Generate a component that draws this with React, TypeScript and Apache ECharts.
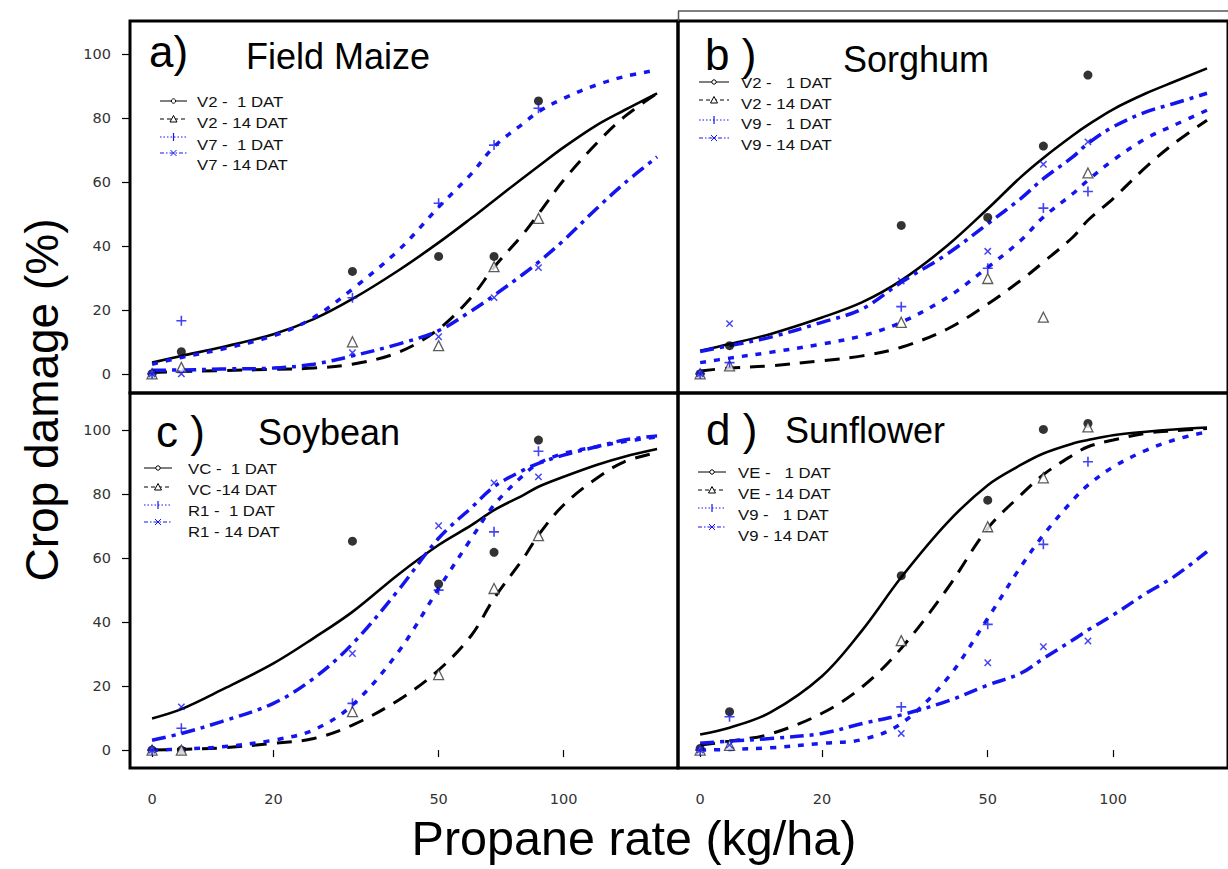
import React, { useEffect, useRef } from 'react';
import * as echarts from 'echarts';

// ---------- data ----------
const ZERO_POS = 10.2; // where dose 0 is drawn on the log axis (axis break)
const POINT_DOSES = [0, 12, 31, 50, 68, 87];
const CURVE_DOSES = [0, 12, 15, 20, 25, 31, 40, 50, 60, 68, 80, 87, 100, 120, 140, 168];
const X_TICKS = [0, 20, 50, 100];
const X_TICK_LABELS = ['0', '20', '50', '100'];
const Y_TICKS = [0, 20, 40, 60, 80, 100];

const PANEL_LETTERS = ['a)', 'b )', 'c )', 'd )'];
const PANEL_CROPS = ['Field Maize', 'Sorghum', 'Soybean', 'Sunflower'];
const NB = '\u00A0';
const LEGEND_LABELS = [
  ['V2 -' + NB + NB + '1 DAT', 'V2 - 14 DAT', 'V7 -' + NB + NB + '1 DAT', 'V7 - 14 DAT'],
  ['V2 -' + NB + NB + NB + '1 DAT', 'V2 - 14 DAT', 'V9 -' + NB + NB + NB + '1 DAT', 'V9 - 14 DAT'],
  ['VC -' + NB + NB + '1 DAT', 'VC -14 DAT', 'R1 -' + NB + NB + '1 DAT', 'R1 - 14 DAT'],
  ['VE -' + NB + NB + NB + '1 DAT', 'VE - 14 DAT', 'V9 -' + NB + NB + NB + '1 DAT', 'V9 - 14 DAT'],
];

// a) Field maize
const maizeV2d1Pts = [0, 6.9, 32, 36.7, 36.7, 85.3];
const maizeV2d14Pts = [0, 2, 10, 8.8, 33.5, 48.6];
const maizeV7d1Pts = [0, 16.6, 23.8, 53.3, 71.5, 83];
const maizeV7d14Pts = [0, 0, 6.6, 11.6, 23.8, 33.2];
const maizeV2d1Fit = [3.5, 5.6, 8.3, 12.4, 17.1, 23.4, 32.3, 41, 48.7, 54.2, 61.3, 64.9, 70.8, 77.7, 82.4, 87.7];
const maizeV2d14Fit = [0.4, 0.7, 1.0, 1.4, 1.8, 3.0, 6.7, 14, 24, 33.3, 43.8, 50, 60.5, 72, 80.3, 87.7];
const maizeV7d1Fit = [3.0, 5.1, 7.7, 11.9, 17.6, 26.5, 38.6, 52.1, 62.6, 71, 78.3, 81.9, 86.1, 90.3, 92.9, 95];
const maizeV7d14Fit = [1.1, 1.2, 1.5, 1.8, 3.0, 5.6, 9.3, 13.5, 19.7, 24.5, 31.2, 34.9, 41.7, 51.6, 59.5, 67.8];

// b) Sorghum
const sorgV2d1Pts = [0, 8.8, 46.4, 48.9, 71.2, 93.4];
const sorgV2d14Pts = [0, 2.5, 16.1, 29.8, 17.7, 62.8];
const sorgV9d1Pts = [0, 3.5, 21, 33, 51.8, 57];
const sorgV9d14Pts = [0, 15.7, 29, 38.3, 65.5, 72.5];
const sorgV2d1Fit = [7.2, 9.3, 12.4, 17.6, 22.4, 29.2, 40.1, 51.6, 61.5, 67.5, 74.5, 77.8, 82.7, 87.7, 91.3, 95.5];
const sorgV2d14Fit = [0.9, 1.8, 2.5, 4.1, 5.6, 8.3, 14, 21.8, 29.2, 34.9, 42.7, 48, 54.8, 64.7, 72, 79.3];
const sorgV9d1Fit = [3.5, 4.9, 6.7, 9.3, 11.9, 16.1, 23.9, 33.3, 41.7, 49, 56.3, 60.5, 66.8, 73.6, 77.7, 82.4];
const sorgV9d14Fit = [7.0, 8.8, 11.4, 16.1, 20.3, 28.6, 37.5, 46.9, 54.8, 61, 67.8, 72, 77.2, 81.9, 84.5, 87.7];

// c) Soybean
const soyVCd1Pts = [0, 0, 65.3, 51.9, 61.8, 96.9];
const soyVCd14Pts = [0, 0, 12, 23.6, 50.5, 67];
const soyR1d1Pts = [0, 6.8, 14.6, 50, 68.2, 93.4];
const soyR1d14Pts = [0, 13.5, 30.2, 70.1, 83.5, 85.4];
const soyVCd1Fit = [9.9, 12.8, 18.8, 27.1, 35, 43.2, 54.9, 64.1, 70.3, 75, 79.7, 82.3, 85.4, 89.1, 91.7, 94.1];
const soyVCd14Fit = [0, 0.2, 0.7, 2.1, 3.6, 7.8, 15.6, 25, 35.9, 47.4, 59.9, 67.2, 76.6, 84.9, 90.1, 93];
const soyR1d1Fit = [0, 0.3, 1.0, 3.1, 6.3, 14.1, 30.7, 50.5, 66.2, 76.6, 85.9, 89.6, 92.7, 94.8, 96.4, 97.9];
const soyR1d14Fit = [3.1, 5.2, 8.9, 14.6, 22.4, 33.2, 50, 66.2, 75.8, 82.3, 87.5, 89.6, 92.2, 94.8, 96.9, 98.2];

// d) Sunflower
const sunVEd1Pts = [0.5, 12, 54.5, 78.1, 100.2, 102.1];
const sunVEd14Pts = [0, 1.5, 34.2, 69.8, 85.1, 101];
const sunV9d1Pts = [0, 10.4, 13.5, 39.3, 64.3, 90.1];
const sunV9d14Pts = [0, 1.6, 5.2, 27.3, 32.3, 34.1];
const sunVEd1Fit = [4.9, 7, 11.7, 23.1, 37.5, 54, 71.1, 82.8, 89.1, 92.7, 95.8, 96.9, 98.4, 99.5, 100.2, 100.8];
const sunVEd14Fit = [1.6, 2.8, 5, 11.5, 19.8, 31.8, 50.5, 69.3, 79.7, 86.1, 92.2, 94.8, 96.9, 99, 99.8, 100.5];
const sunV9d1Fit = [0, 0.2, 0.7, 2.1, 3.3, 8.3, 22.4, 41.2, 57.3, 67.2, 78.1, 82.8, 88.5, 93.7, 96.9, 99.5];
const sunV9d14Fit = [2.1, 2.8, 3.6, 5.2, 8.3, 11, 15.3, 20.3, 24, 28.6, 34.4, 37.5, 42.2, 49, 54.2, 62];

const PANEL_POINTS = [
  [maizeV2d1Pts, maizeV2d14Pts, maizeV7d1Pts, maizeV7d14Pts],
  [sorgV2d1Pts, sorgV2d14Pts, sorgV9d1Pts, sorgV9d14Pts],
  [soyVCd1Pts, soyVCd14Pts, soyR1d1Pts, soyR1d14Pts],
  [sunVEd1Pts, sunVEd14Pts, sunV9d1Pts, sunV9d14Pts],
];
const PANEL_FITS = [
  [maizeV2d1Fit, maizeV2d14Fit, maizeV7d1Fit, maizeV7d14Fit],
  [sorgV2d1Fit, sorgV2d14Fit, sorgV9d1Fit, sorgV9d14Fit],
  [soyVCd1Fit, soyVCd14Fit, soyR1d1Fit, soyR1d14Fit],
  [sunVEd1Fit, sunVEd14Fit, sunV9d1Fit, sunV9d14Fit],
];

// ---------- styling / layout ----------
const BLUE = '#1414f0';
const FONT = '"Liberation Sans", Arial, sans-serif';
const TICK_FONT = 'DejaVu Sans';
const X_MIN = 2.2;
const X_MAX = 5.24;
const lnPos = (d: number) => Math.log(d === 0 ? ZERO_POS : d);

const GRIDS = [
  { left: 130, top: 21, width: 548, height: 372, yMin: -6, yMax: 110.3 },
  { left: 678, top: 21, width: 560, height: 372, yMin: -6, yMax: 110.3 },
  { left: 130, top: 393, width: 548, height: 375, yMin: -5.6, yMax: 111.6 },
  { left: 678, top: 393, width: 560, height: 375, yMin: -5.6, yMax: 111.6 },
];

const PLUS_PATH = 'path://M4.2,0H5.8V10H4.2Z M0,4.2H10V5.8H0Z';

const LINE_STYLES: any[] = [
  { color: '#000', type: 'solid', width: 2.6 },
  { color: '#000', type: [15, 10], width: 3 },
  { color: BLUE, type: [6, 8], width: 3.5 },
  { color: BLUE, type: [14, 6, 4, 6], width: 3.5 },
];
const MARKERS: any[] = [
  { symbol: 'circle', symbolSize: 9, itemStyle: { color: '#000' } },
  { symbol: 'triangle', symbolSize: 10, itemStyle: { color: '#fff', borderColor: '#333', borderWidth: 1.3 } },
  { symbol: PLUS_PATH, symbolSize: 10, itemStyle: { color: BLUE } },
  { symbol: PLUS_PATH, symbolSize: 9, symbolRotate: 45, itemStyle: { color: BLUE } },
];

const TITLES = [
  { lx: 149, ly: 51, cx: 246, cy: 56 },
  { lx: 705, ly: 54, cx: 843, cy: 59 },
  { lx: 156, ly: 431, cx: 258, cy: 432 },
  { lx: 706, ly: 429, cx: 785, cy: 430 },
];
const LEGEND_LAYOUT = [
  { x1: 160, x2: 187, symY: [101, 119, 137, 153], tx: 197, ty: [101, 122, 144, 164] },
  { x1: 699, x2: 729, symY: [82, 100, 120, 138], tx: 741, ty: [82, 103, 123, 144] },
  { x1: 144, x2: 172, symY: [468, 487, 505, 522], tx: 188, ty: [468, 489, 510, 531] },
  { x1: 698, x2: 726, symY: [472, 490, 508, 527], tx: 738, ty: [472, 493, 514, 535] },
];
const LEGEND_DASH: any[] = [null, [4, 3], [1.5, 2], [4, 2, 1.5, 2]];

function legendGraphics(p: number): any[] {
  const L = LEGEND_LAYOUT[p];
  const out: any[] = [];
  for (let k = 0; k < 4; k++) {
    const y = L.symY[k];
    const color = k < 2 ? '#000' : BLUE;
    out.push({
      type: 'line', silent: true,
      shape: { x1: L.x1, y1: y, x2: L.x2, y2: y },
      style: { stroke: color, lineWidth: 1, lineDash: LEGEND_DASH[k] },
    });
    const mx = (L.x1 + L.x2) / 2;
    if (k === 0) {
      out.push({ type: 'circle', shape: { cx: mx, cy: y, r: 2.2 }, style: { fill: '#fff', stroke: '#000', lineWidth: 1 } });
    } else if (k === 1) {
      out.push({ type: 'polygon', shape: { points: [[mx - 3.5, y + 3], [mx + 3.5, y + 3], [mx, y - 3.5]] }, style: { fill: '#fff', stroke: '#000', lineWidth: 1 } });
    } else if (k === 2) {
      out.push({ type: 'line', shape: { x1: mx, y1: y - 4, x2: mx, y2: y + 4 }, style: { stroke: BLUE, lineWidth: 1.2 } });
    } else {
      out.push({ type: 'line', shape: { x1: mx - 3, y1: y - 3, x2: mx + 3, y2: y + 3 }, style: { stroke: BLUE, lineWidth: 1 } });
      out.push({ type: 'line', shape: { x1: mx - 3, y1: y + 3, x2: mx + 3, y2: y - 3 }, style: { stroke: BLUE, lineWidth: 1 } });
    }
    out.push({
      type: 'text', silent: true, x: L.tx, y: L.ty[k], scaleX: 1.08,
      style: {
        text: LEGEND_LABELS[p][k], x: 0, y: 0, fill: '#111',
        font: '15.5px ' + FONT, align: 'left', verticalAlign: 'middle',
        textAlign: 'left', textVerticalAlign: 'middle',
      },
    });
  }
  return out;
}

function buildOption(): any {
  const grid = GRIDS.map((g) => ({
    left: g.left, top: g.top, width: g.width, height: g.height,
    show: true, borderColor: '#000', borderWidth: 3, backgroundColor: 'transparent',
    containLabel: false,
  }));
  const xAxis = GRIDS.map((g, i) => {
    const bottom = i >= 2;
    return {
      type: 'value', gridIndex: i, min: X_MIN, max: X_MAX,
      splitLine: { show: false },
      axisLine: { show: false },
      axisTick: bottom
        ? { show: true, inside: false, length: 7, customValues: X_TICKS.map(lnPos), lineStyle: { color: '#000', width: 1.2 } }
        : { show: false },
      axisLabel: bottom
        ? {
            show: true, margin: 23, fontSize: 14.5, color: '#333', fontFamily: TICK_FONT,
            customValues: X_TICKS.map(lnPos),
            formatter: (v: number) => {
              const idx = X_TICKS.findIndex((d) => Math.abs(lnPos(d) - v) < 1e-6);
              return idx >= 0 ? X_TICK_LABELS[idx] : '';
            },
          }
        : { show: false },
    };
  });
  const yAxis = GRIDS.map((g, i) => {
    const left = i % 2 === 0;
    return {
      type: 'value', gridIndex: i, min: g.yMin, max: g.yMax,
      splitLine: { show: false },
      axisLine: { show: false },
      axisTick: left
        ? { show: true, inside: false, length: 8, customValues: Y_TICKS, lineStyle: { color: '#000', width: 1.2 } }
        : { show: false },
      axisLabel: left
        ? { show: true, margin: 19, fontSize: 14.5, color: '#333', fontFamily: TICK_FONT, customValues: Y_TICKS }
        : { show: false },
    };
  });

  const series: any[] = [];
  for (let p = 0; p < 4; p++) {
    for (let k = 0; k < 4; k++) {
      const ls = LINE_STYLES[k];
      series.push({
        type: 'line', name: LEGEND_LABELS[p][k] + ' fit', xAxisIndex: p, yAxisIndex: p,
        data: CURVE_DOSES.map((d, j) => [lnPos(d), PANEL_FITS[p][k][j]]),
        showSymbol: false, smooth: 0.35, z: 2 + k,
        lineStyle: { color: ls.color, width: ls.width, type: ls.type, cap: 'butt' },
        silent: true,
      });
    }
    for (let k = 0; k < 4; k++) {
      const m = MARKERS[k];
      series.push({
        type: 'scatter', name: LEGEND_LABELS[p][k], xAxisIndex: p, yAxisIndex: p,
        data: POINT_DOSES.map((d, j) => [lnPos(d), PANEL_POINTS[p][k][j]]),
        symbol: m.symbol, symbolSize: m.symbolSize, symbolRotate: m.symbolRotate || 0,
        itemStyle: m.itemStyle, z: 10 + k, silent: true,
      });
    }
  }

  const graphic: any[] = [];
  // thin outer frame line above panel b
  graphic.push({ type: 'line', shape: { x1: 678, y1: 11, x2: 1228, y2: 11 }, style: { stroke: '#555', lineWidth: 1.5 } });
  graphic.push({ type: 'line', shape: { x1: 678.5, y1: 11, x2: 678.5, y2: 21 }, style: { stroke: '#555', lineWidth: 1.5 } });
  for (let p = 0; p < 4; p++) {
    const t = TITLES[p];
    graphic.push({
      type: 'text', silent: true,
      style: { text: PANEL_LETTERS[p], x: t.lx, y: t.ly, fill: '#000', font: '44px ' + FONT, align: 'left', verticalAlign: 'middle', textAlign: 'left', textVerticalAlign: 'middle' },
    });
    graphic.push({
      type: 'text', silent: true,
      style: { text: PANEL_CROPS[p], x: t.cx, y: t.cy, fill: '#000', font: '36px ' + FONT, align: 'left', verticalAlign: 'middle', textAlign: 'left', textVerticalAlign: 'middle' },
    });
    graphic.push(...legendGraphics(p));
  }
  graphic.push({
    type: 'text', silent: true, x: 42, y: 400, rotation: Math.PI / 2,
    style: { text: 'Crop damage (%)', x: 0, y: 0, fill: '#000', font: '46px ' + FONT, align: 'center', verticalAlign: 'middle', textAlign: 'center', textVerticalAlign: 'middle' },
  });
  graphic.push({
    type: 'text', silent: true,
    style: { text: 'Propane rate (kg/ha)', x: 634, y: 838, fill: '#000', font: '48.5px ' + FONT, align: 'center', verticalAlign: 'middle', textAlign: 'center', textVerticalAlign: 'middle' },
  });

  return { animation: false, backgroundColor: '#fff', grid, xAxis, yAxis, series, graphic };
}

export default function App() {
  const ref = useRef<HTMLDivElement>(null);
  useEffect(() => {
    if (!ref.current) return;
    const chart = echarts.init(ref.current, null, { renderer: 'svg' });
    chart.setOption(buildOption());
    return () => chart.dispose();
  }, []);
  return (
    <div
      ref={ref}
      style={{ position: 'fixed', left: 0, top: 0, width: 1228, height: 869, background: '#fff' }}
    />
  );
}
